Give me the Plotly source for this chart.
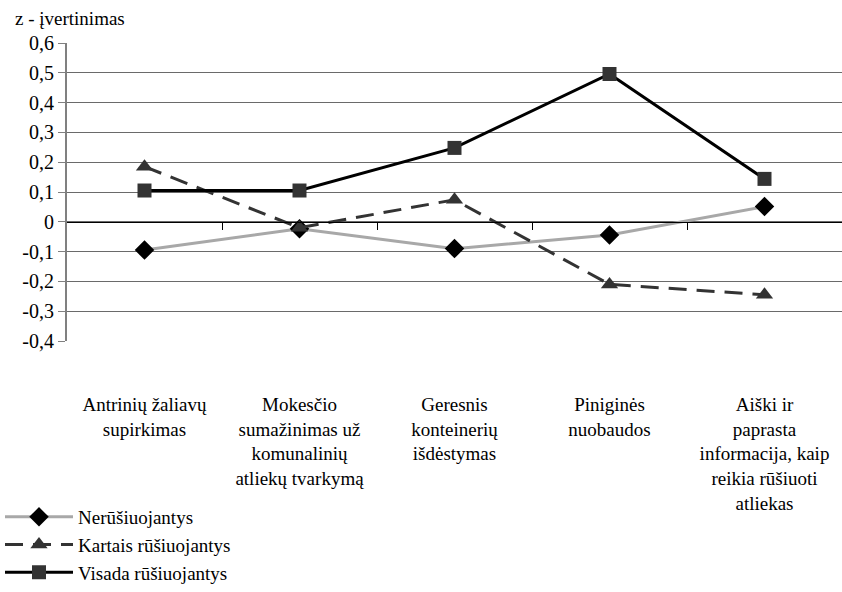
import plotly.graph_objects as go

categories = [
    "Antrinių žaliavų<br>supirkimas",
    "Mokesčio<br>sumažinimas už<br>komunalinių<br>atliekų tvarkymą",
    "Geresnis<br>konteinerių<br>išdėstymas",
    "Piniginės<br>nuobaudos",
    "Aiški ir<br>paprasta<br>informacija, kaip<br>reikia rūšiuoti<br>atliekas",
]
nerusiuojantys = [-0.095, -0.023, -0.090, -0.044, 0.051]
kartais = [0.185, -0.020, 0.074, -0.210, -0.245]
visada = [0.105, 0.105, 0.248, 0.496, 0.144]

y_ticks = [0.6, 0.5, 0.4, 0.3, 0.2, 0.1, 0.0, -0.1, -0.2, -0.3, -0.4]
y_tick_text = ["0,6", "0,5", "0,4", "0,3", "0,2", "0,1", "0", "-0,1", "-0,2", "-0,3", "-0,4"]

FONT = "Liberation Serif, Noto Serif, DejaVu Serif, Times New Roman, serif"
x_idx = list(range(len(categories)))

fig = go.Figure()
fig.add_trace(go.Scatter(
    x=x_idx, y=nerusiuojantys, name="Nerūšiuojantys", mode="lines+markers",
    line=dict(color="#a8a8a8", width=3),
    marker=dict(symbol="diamond", size=15, color="#000000"),
))
fig.add_trace(go.Scatter(
    x=x_idx, y=kartais, name="Kartais rūšiuojantys", mode="lines+markers",
    line=dict(color="#333333", width=3, dash="18px,10px"),
    marker=dict(symbol="triangle-up", size=15, color="#333333"),
))
fig.add_trace(go.Scatter(
    x=x_idx, y=visada, name="Visada rūšiuojantys", mode="lines+markers",
    line=dict(color="#000000", width=3),
    marker=dict(symbol="square", size=14, color="#333333"),
))
# category axis crossing at zero, carrying the boundary tick marks
fig.add_trace(go.Scatter(x=[None], y=[None], xaxis="x2", showlegend=False, hoverinfo="skip"))

fig.update_layout(
    width=842, height=592,
    margin=dict(l=67, r=0, t=43, b=251, autoexpand=False),
    paper_bgcolor="white", plot_bgcolor="white",
    font=dict(family=FONT, size=19, color="#000000"),
    showlegend=True,
    legend=dict(
        xref="container", yref="container", x=0.0, y=0.0,
        xanchor="left", yanchor="bottom",
        font=dict(family=FONT, size=19), itemwidth=68,
        bgcolor="rgba(0,0,0,0)",
    ),
    xaxis=dict(
        range=[-0.5, 4.5], tickmode="array", tickvals=x_idx, ticktext=categories,
        showline=False, showgrid=False, zeroline=False, ticks="",
        tickangle=0, automargin=False,
        ticklabelstandoff=50, tickfont=dict(family=FONT, size=19),
    ),
    xaxis2=dict(
        overlaying="x", anchor="free", position=0.4, range=[-0.5, 4.5],
        showline=True, linecolor="#000000", linewidth=1,
        tickmode="array", tickvals=[0.5, 1.5, 2.5, 3.5], ticks="outside",
        ticklen=7, tickcolor="#000000", showticklabels=False,
        showgrid=False, zeroline=False, automargin=False,
    ),
    yaxis=dict(
        range=[-0.4, 0.6], tickmode="array", tickvals=y_ticks, ticktext=y_tick_text,
        showline=True, linecolor="#808080", linewidth=2,
        ticks="outside", ticklen=7, tickcolor="#808080",
        showgrid=True, gridcolor="#6a6a6a", gridwidth=1, zeroline=False,
        tickfont=dict(family=FONT, size=20), automargin=False,
    ),
    annotations=[dict(
        text="z - įvertinimas", xref="paper", yref="paper", x=-0.07, y=1.04,
        xanchor="left", yanchor="bottom", showarrow=False,
        font=dict(family=FONT, size=19),
    )],
)

fig.write_html("out.html")
